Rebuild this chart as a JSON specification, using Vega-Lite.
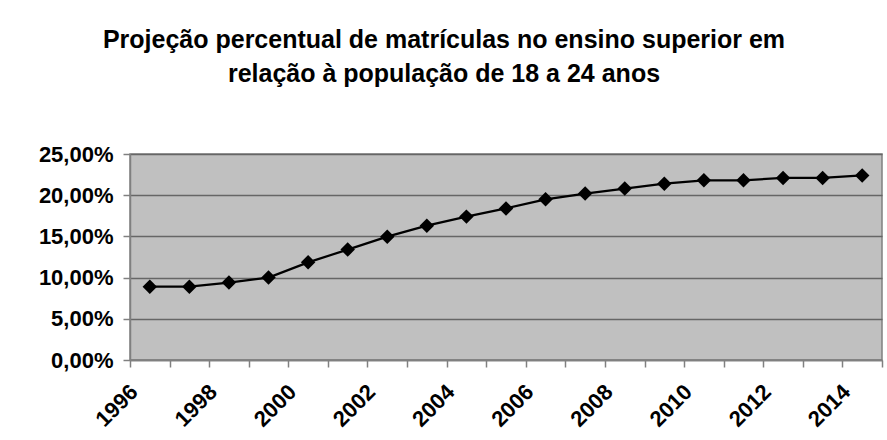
{
  "$schema": "https://vega.github.io/schema/vega-lite/v6.json",
  "width": 752,
  "height": 206,
  "autosize": {"type": "none"},
  "padding": {"left": 130, "top": 154, "right": 5, "bottom": 80},
  "background": "white",
  "title": {
    "text": ["Projeção percentual de matrículas no ensino superior em", "relação à população de 18 a 24 anos"],
    "anchor": "middle",
    "frame": "group",
    "dx": -62,
    "offset": 56,
    "font": "Liberation Sans",
    "fontSize": 25,
    "fontWeight": "bold",
    "lineHeight": 34,
    "color": "black"
  },
  "config": {
    "locale": {"number": {"decimal": ",", "thousands": ".", "grouping": [3], "currency": ["R$", ""]}},
    "view": {"fill": "#C0C0C0", "stroke": "#808080", "strokeWidth": 1.5},
    "font": "Liberation Sans"
  },
  "data": {
    "values": [
      {"ano": 1996, "taxa": 0.089},
      {"ano": 1997, "taxa": 0.089},
      {"ano": 1998, "taxa": 0.094},
      {"ano": 1999, "taxa": 0.100},
      {"ano": 2000, "taxa": 0.1185},
      {"ano": 2001, "taxa": 0.134},
      {"ano": 2002, "taxa": 0.1497},
      {"ano": 2003, "taxa": 0.163},
      {"ano": 2004, "taxa": 0.174},
      {"ano": 2005, "taxa": 0.184},
      {"ano": 2006, "taxa": 0.195},
      {"ano": 2007, "taxa": 0.202},
      {"ano": 2008, "taxa": 0.208},
      {"ano": 2009, "taxa": 0.214},
      {"ano": 2010, "taxa": 0.218},
      {"ano": 2011, "taxa": 0.218},
      {"ano": 2012, "taxa": 0.221},
      {"ano": 2013, "taxa": 0.221},
      {"ano": 2014, "taxa": 0.224}
    ]
  },
  "encoding": {
    "x": {
      "field": "ano",
      "type": "ordinal",
      "scale": {"paddingInner": 0, "paddingOuter": 0},
      "axis": {
        "title": null,
        "tickBand": "extent",
        "labelOffset": -16,
        "labelAngle": -45,
        "labelAlign": "right",
        "labelBaseline": "middle",
        "labelPadding": 21,
        "labelExpr": "toNumber(datum.value) % 2 == 0 ? datum.label : ''",
        "labelOverlap": false,
        "labelFont": "Liberation Sans",
        "labelFontSize": 22,
        "labelFontWeight": "bold",
        "labelColor": "black",
        "tickSize": 7,
        "tickColor": "#808080",
        "tickWidth": 1.5,
        "domainColor": "#808080",
        "domainWidth": 1.5,
        "grid": false
      }
    },
    "y": {
      "field": "taxa",
      "type": "quantitative",
      "scale": {"domain": [0, 0.25], "nice": false},
      "axis": {
        "title": null,
        "values": [0, 0.05, 0.1, 0.15, 0.2, 0.25],
        "format": ".2%",
        "labelFont": "Liberation Sans",
        "labelFontSize": 22,
        "labelFontWeight": "bold",
        "labelColor": "black",
        "labelPadding": 10,
        "tickSize": 7,
        "tickColor": "#808080",
        "tickWidth": 1.5,
        "domainColor": "#808080",
        "domainWidth": 1.5,
        "grid": true,
        "gridColor": "#666666",
        "gridWidth": 1.5,
        "gridOpacity": 1
      }
    }
  },
  "layer": [
    {"mark": {"type": "line", "color": "black", "strokeWidth": 2.2}},
    {"mark": {"type": "point", "shape": "diamond", "filled": true, "color": "black", "size": 210, "opacity": 1}}
  ]
}
